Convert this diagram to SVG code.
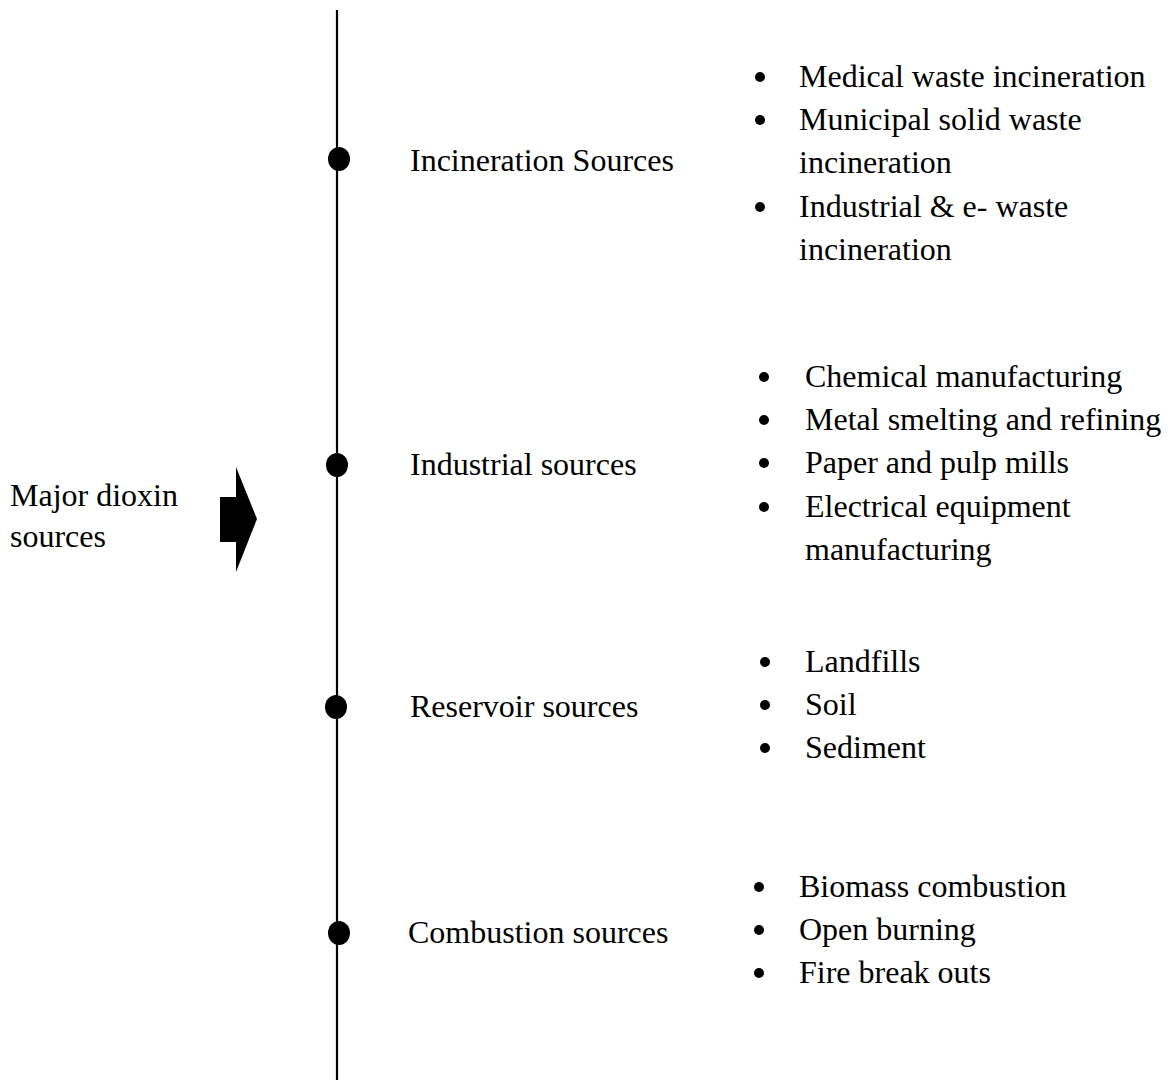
<svg xmlns="http://www.w3.org/2000/svg" width="1168" height="1080" viewBox="0 0 1168 1080">
<style>
text{font-family:"Liberation Serif","Times New Roman",serif;font-size:32px;fill:#000}
.dot{fill:#000}
.b{fill:#000}
</style>
<rect width="1168" height="1080" fill="#fff"/>
<g id="connectors">
<line x1="337" y1="10" x2="337" y2="1080" stroke="#000" stroke-width="2.2"/>
<polygon id="arrow" points="220,497 236,497 236,467 257,519 236,572 236,542 220,542" fill="#000"/>
</g>
<g id="root"><text x="10" y="506">Major dioxin</text><text x="10" y="547">sources</text></g>
<g id="incineration">
<ellipse class="dot" cx="339" cy="159" rx="11" ry="12"/>
<text x="410" y="171">Incineration Sources</text>
<circle class="b" cx="760" cy="77" r="5"/><text x="799" y="87">Medical waste incineration</text>
<circle class="b" cx="760" cy="120" r="5"/><text x="799" y="130">Municipal solid waste</text>
<text x="799" y="173">incineration</text>
<circle class="b" cx="760" cy="207" r="5"/><text x="799" y="217">Industrial &amp; e- waste</text>
<text x="799" y="260">incineration</text>
</g>
<g id="industrial">
<ellipse class="dot" cx="337" cy="465" rx="11" ry="12"/>
<text x="410" y="475">Industrial sources</text>
<circle class="b" cx="764" cy="377" r="5"/><text x="805" y="387">Chemical manufacturing</text>
<circle class="b" cx="764" cy="420" r="5"/><text x="805" y="430">Metal smelting and refining</text>
<circle class="b" cx="764" cy="463" r="5"/><text x="805" y="473">Paper and pulp mills</text>
<circle class="b" cx="764" cy="507" r="5"/><text x="805" y="517">Electrical equipment</text>
<text x="805" y="560">manufacturing</text>
</g>
<g id="reservoir">
<ellipse class="dot" cx="336" cy="707" rx="11" ry="12"/>
<text x="410" y="717">Reservoir sources</text>
<circle class="b" cx="765" cy="662" r="5"/><text x="805" y="672">Landfills</text>
<circle class="b" cx="765" cy="705" r="5"/><text x="805" y="715">Soil</text>
<circle class="b" cx="765" cy="748" r="5"/><text x="805" y="758">Sediment</text>
</g>
<g id="combustion">
<ellipse class="dot" cx="339" cy="933" rx="11" ry="12"/>
<text x="408" y="943">Combustion sources</text>
<circle class="b" cx="759" cy="887" r="5"/><text x="799" y="897">Biomass combustion</text>
<circle class="b" cx="759" cy="930" r="5"/><text x="799" y="940">Open burning</text>
<circle class="b" cx="759" cy="973" r="5"/><text x="799" y="983">Fire break outs</text>
</g>
</svg>
